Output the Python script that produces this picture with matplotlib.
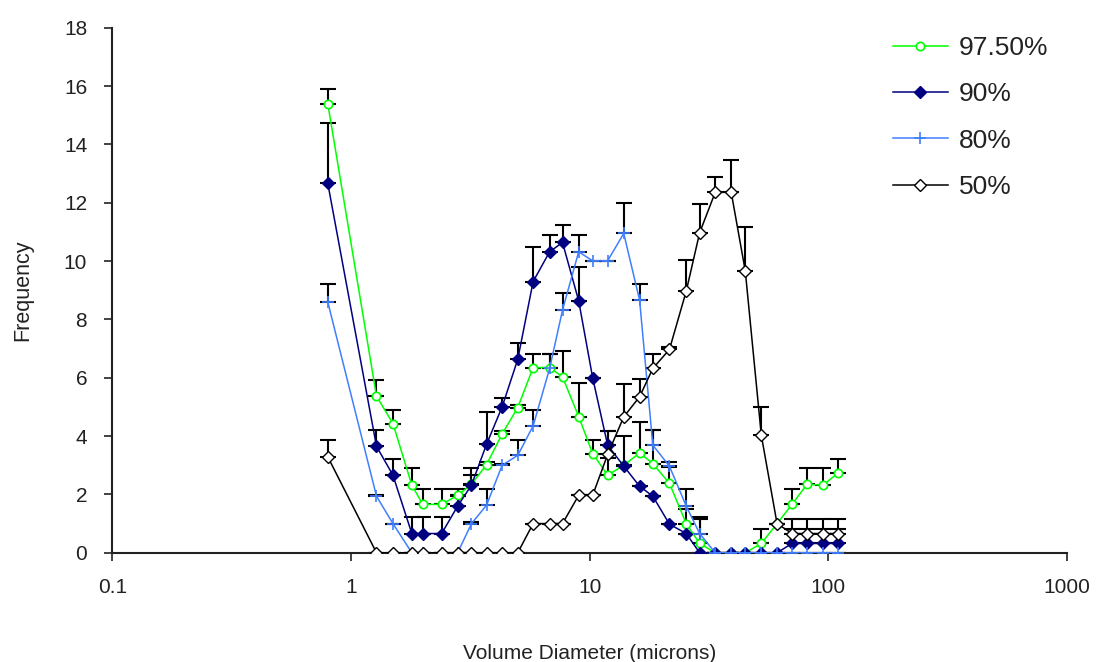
import matplotlib
matplotlib.use("Agg")
import matplotlib.pyplot as plt
import numpy as np

plt.rcParams['font.family'] = ['Liberation Sans', 'DejaVu Sans']

# Volume diameter bins (microns)
diam = [0.8, 1.28, 1.5, 1.8, 2.0, 2.4, 2.8, 3.2, 3.7, 4.3, 5.0, 5.8, 6.8, 7.7, 9.0, 10.3,
        11.9, 13.9, 16.2, 18.4, 21.6, 25.4, 28.9, 33.6, 39.2, 44.9, 52.4, 61.0, 70.5, 81.5, 95.0, 109.4]

s975 = [15.4, 5.37, 4.43, 2.32, 1.66, 1.66, 1.97, 2.35, 3.02, 4.07, 4.98, 6.35, 6.35, 6.03, 4.67, 3.4,
        2.66, 3.0, 3.42, 3.06, 2.38, 1.0, 0.32, 0, 0, 0, 0.32, 1.0, 1.66, 2.35, 2.32, 2.72]
e975 = [0.5, 0.55, 0.46, 0.57, 0.54, 0.54, 0.23, 0.3, 0.1, 0.1, 0.1, 0.48, 0.48, 0.9, 1.14, 0.46,
        0.6, 1.0, 1.07, 1.14, 0.55, 0.5, 0.85, 0, 0, 0, 0.5, 0, 0.54, 0.54, 0.57, 0.51]

s90 = [12.67, 3.65, 2.66, 0.66, 0.66, 0.66, 1.6, 2.32, 3.72, 5.0, 6.63, 9.3, 10.32, 10.64, 8.64, 6.0,
       3.69, 2.97, 2.28, 1.94, 0.98, 0.66, 0, 0, 0, 0, 0, 0, 0.32, 0.32, 0.32, 0.32]
e90 = [2.07, 0.55, 0.57, 0.57, 0.57, 0.57, 0.35, 0.57, 1.11, 0.3, 0.57, 1.2, 0.58, 0.59, 1.16, 0,
       0.5, 0, 0, 0, 0, 0, 0, 0, 0, 0, 0, 0, 0.5, 0.5, 0.5, 0.5]

s80 = [8.6, 1.94, 1.0, 0, 0, 0, 0, 1.0, 1.63, 3.0, 3.34, 4.35, 6.32, 8.32, 10.32, 10.01,
       10.01, 10.95, 8.66, 3.69, 2.97, 1.6, 0.66, 0, 0, 0, 0, 0, 0, 0, 0, 0]
e80 = [0.6, 0.05, 0, 0, 0, 0, 0, 0.05, 0.57, 0.05, 0.52, 0.54, 0.51, 0.57, 0.58, 0,
       0, 1.03, 0.57, 0.51, 0.15, 0.6, 0.57, 0, 0, 0, 0, 0, 0, 0, 0, 0]

s50 = [3.29, 0, 0, 0, 0, 0, 0, 0, 0, 0, 0, 1.0, 1.0, 1.0, 1.97, 1.97,
       3.37, 4.66, 5.35, 6.32, 6.97, 8.97, 10.97, 12.36, 12.36, 9.66, 4.03, 1.0, 0.66, 0.66, 0.66, 0.66]
e50 = [0.57, 0, 0, 0, 0, 0, 0, 0, 0, 0, 0, 0, 0, 0, 0, 0,
       0.8, 1.14, 0.6, 0.51, 0.1, 1.06, 1.0, 0.53, 1.1, 1.52, 0.97, 0, 0.5, 0.5, 0.5, 0.5]

labels = ['97.50%', '90%', '80%', '50%']
xticks = [0.1, 1, 10, 100, 1000]
xticklabels = ['0.1', '1', '10', '100', '1000']
yticks = list(range(0, 19, 2))

fig = plt.figure(figsize=(11, 6.62), dpi=100)
ax = fig.add_axes([0.102, 0.165, 0.868, 0.793])

styles = [
    dict(color='#00FF00', marker='o', markersize=6, markerfacecolor='white', markeredgecolor='#00FF00', markeredgewidth=1.2),
    dict(color='#000080', marker='D', markersize=6.5, markerfacecolor='#000080', markeredgecolor='#000080'),
    dict(color='#3F7FFF', marker='+', markersize=9, markeredgewidth=1.2),
    dict(color='black', marker='D', markersize=6, markerfacecolor='white', markeredgecolor='black', markeredgewidth=1.0),
]
series = [(s975, e975), (s90, e90), (s80, e80), (s50, e50)]

x = np.array(diam)
for (vals, errs), lab, st in zip(series, labels, styles):
    v = np.array(vals, dtype=float)
    e = np.array(errs, dtype=float)
    ax.errorbar(x, v, yerr=[np.zeros_like(e), e], fmt='none', ecolor='black',
                elinewidth=1.5, capsize=6, capthick=1.5, zorder=2)

for (vals, errs), lab, st in zip(series, labels, styles):
    ax.plot(x, vals, linewidth=1.1, label=lab, zorder=3, **st)

ax.set_xscale('log')
ax.set_xlim(0.1, 1000)
ax.set_ylim(0, 18)
ax.set_xticks(xticks)
ax.set_xticklabels(xticklabels)
ax.xaxis.set_minor_locator(matplotlib.ticker.NullLocator())
ax.set_yticks(yticks)
ax.tick_params(axis='both', labelsize=15, colors='#222222', direction='out', length=6, width=1.2)
ax.tick_params(axis='x', pad=12)
ax.tick_params(axis='y', pad=12)
for s in ['top', 'right']:
    ax.spines[s].set_visible(False)
for s in ['left', 'bottom']:
    ax.spines[s].set_linewidth(1.5)
    ax.spines[s].set_color('#222222')

ax.set_xlabel('Volume Diameter (microns)', fontsize=15, color='#222222', labelpad=34)
ax.set_ylabel('Frequency', fontsize=15.5, color='#222222', labelpad=22)

leg = ax.legend(loc='upper right', bbox_to_anchor=(1.005, 1.03), frameon=False, fontsize=19,
                handlelength=2.1, labelspacing=0.85, handletextpad=0.4)
for t in leg.get_texts():
    t.set_color('#222222')

fig.savefig('out.png', dpi=100)
